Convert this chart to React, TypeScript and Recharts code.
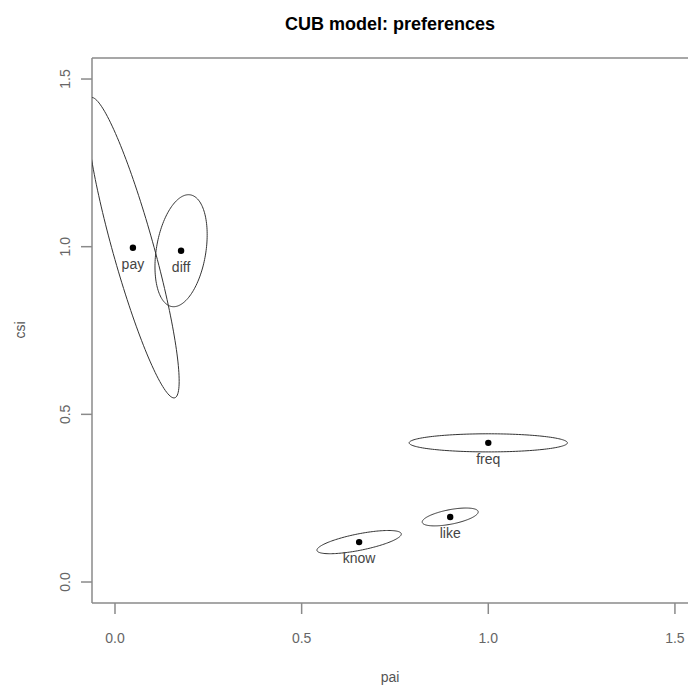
import React from 'react';
import { ComposedChart, Scatter, XAxis, YAxis, ReferenceLine } from 'recharts';

// Estimated CUB parameters per item
const labels = ['pay', 'diff', 'freq', 'like', 'know'];
const pai = [0.048, 0.177, 1.0, 0.898, 0.654];
const csi = [0.997, 0.988, 0.415, 0.194, 0.119];
// Confidence ellipses: conjugate semi-axis vectors (pai, csi components)
const ellAPai = [0.11, 0.02, 0.212, 0.075, 0.113];
const ellACsi = [-0.448, 0.167, 0.0, 0.015, 0.024];
const ellBPai = [0.057, 0.067, 0.0, 0.0, 0.0];
const ellBCsi = [0.0, 0.0, 0.027, 0.022, 0.025];

const xTicks = [0, 0.5, 1.0, 1.5];
const yTicks = [0, 0.5, 1.0, 1.5];
const xDomain = [-0.0616, 1.535];
const yDomain = [-0.0626, 1.5627];

const points = labels.map((name, i) => ({ name, x: pai[i], y: csi[i] }));

const STEPS = 160;
const ellipses = labels.map((_, i) => {
  const pts: { x: number; y: number }[] = [];
  for (let k = 0; k <= STEPS; k++) {
    const t = (2 * Math.PI * k) / STEPS;
    pts.push({
      x: pai[i] + ellAPai[i] * Math.cos(t) + ellBPai[i] * Math.sin(t),
      y: csi[i] + ellACsi[i] * Math.cos(t) + ellBCsi[i] * Math.sin(t),
    });
  }
  return pts;
});

const FONT = '"Liberation Sans", Arial, Helvetica, sans-serif';
const AXIS = '#8a8a8a';

const XTick = (props: any) => (
  <text x={props.x} y={643} textAnchor="middle" fontSize={14} fill="#666" fontFamily={FONT}>
    {props.payload.value.toFixed(1)}
  </text>
);

const YTick = (props: any) => (
  <text
    x={70}
    y={props.y}
    transform={`rotate(-90, 70, ${props.y})`}
    textAnchor="middle"
    fontSize={14}
    fill="#666"
    fontFamily={FONT}
  >
    {props.payload.value.toFixed(1)}
  </text>
);

const PointShape = (props: any) => (
  <g>
    <circle cx={props.cx} cy={props.cy} r={3.2} fill="#000" />
    <text x={props.cx} y={props.cy + 21} textAnchor="middle" fontSize={14} fill="#444" fontFamily={FONT}>
      {props.payload.name}
    </text>
  </g>
);

const NoShape = () => <g />;

export default function App() {
  return (
    <div style={{ position: 'absolute', left: 0, top: 0, width: 688, height: 689, background: '#fff', fontFamily: FONT }}>
      <div style={{ position: 'absolute', left: 92, width: 596, top: 14, textAlign: 'center', fontWeight: 'bold', fontSize: 18, color: '#000' }}>
        CUB model: preferences
      </div>
      <div style={{ position: 'absolute', left: 92, width: 596, top: 669, textAlign: 'center', fontSize: 14, color: '#555' }}>
        pai
      </div>
      <div style={{ position: 'absolute', left: 6, top: 321, width: 30, height: 18, fontSize: 14, color: '#555', transform: 'rotate(-90deg)', textAlign: 'center' }}>
        csi
      </div>
      <ComposedChart width={688} height={689} margin={{ top: 58, right: 0, bottom: 0, left: 0 }}>
        <XAxis
          type="number"
          dataKey="x"
          domain={xDomain}
          allowDataOverflow
          ticks={xTicks}
          interval={0}
          height={86}
          tickSize={11}
          stroke={AXIS}
          axisLine={{ stroke: AXIS, strokeWidth: 1.5 }}
          tickLine={{ stroke: AXIS, strokeWidth: 1.5 }}
          tick={<XTick />}
        />
        <YAxis
          type="number"
          dataKey="y"
          domain={yDomain}
          allowDataOverflow
          ticks={yTicks}
          interval={0}
          width={92}
          tickSize={11}
          stroke={AXIS}
          axisLine={{ stroke: AXIS, strokeWidth: 1.5 }}
          tickLine={{ stroke: AXIS, strokeWidth: 1.5 }}
          tick={<YTick />}
        />
        <ReferenceLine y={yDomain[1]} stroke={AXIS} strokeWidth={1.5} />
        {ellipses.map((pts, i) => (
          <Scatter
            key={labels[i]}
            data={pts}
            line={{ stroke: '#333', strokeWidth: 1 }}
            lineType="joint"
            shape={<NoShape />}
            isAnimationActive={false}
          />
        ))}
        <Scatter data={points} shape={<PointShape />} isAnimationActive={false} />
      </ComposedChart>
    </div>
  );
}
